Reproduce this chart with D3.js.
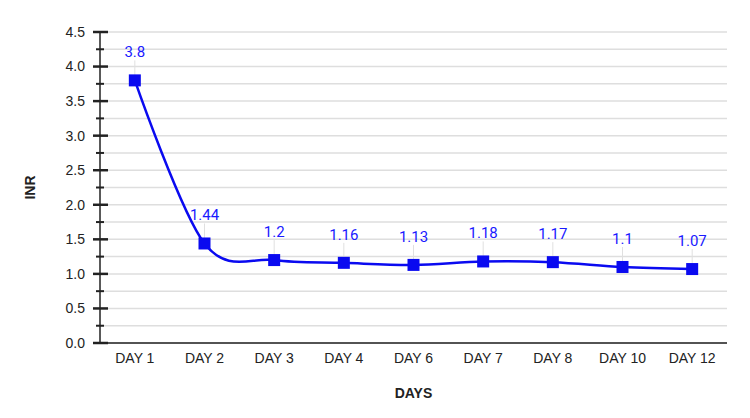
<!DOCTYPE html>
<html>
<head>
<meta charset="utf-8">
<script src="https://cdn.jsdelivr.net/npm/d3@7"></script>
<style>
  body { margin: 0; background: #fff; }
  svg { display: block; }
</style>
</head>
<body>
<div id="chart"></div>
<script>
// data
const days = ["DAY 1", "DAY 2", "DAY 3", "DAY 4", "DAY 6", "DAY 7", "DAY 8", "DAY 10", "DAY 12"];
const inr = [3.8, 1.44, 1.2, 1.16, 1.13, 1.18, 1.17, 1.1, 1.07];
const yTicks = [0, 0.5, 1, 1.5, 2, 2.5, 3, 3.5, 4, 4.5];
const yMinor = [0.25, 0.75, 1.25, 1.75, 2.25, 2.75, 3.25, 3.75, 4.25];

const width = 750, height = 418;
const margin = { top: 32, right: 23, bottom: 75, left: 100 };

const svg = d3.select("#chart")
    .append("svg")
    .attr("width", width)
    .attr("height", height);

const x = d3.scaleBand()
    .domain(days)
    .range([margin.left, width - margin.right]);

const y = d3.scaleLinear()
    .domain([0, 4.5])
    .range([height - margin.bottom, margin.top]);

// grid lines
svg.append("g")
    .selectAll("line")
    .data(yTicks.concat(yMinor))
    .enter()
    .append("line")
    .attr("x1", margin.left)
    .attr("x2", width - margin.right)
    .attr("y1", d => y(d))
    .attr("y2", d => y(d))
    .attr("stroke", "#dedede")
    .attr("stroke-width", 1.5);

// y axis
const yAxis = svg.append("g")
    .attr("transform", `translate(${margin.left},0)`);

yAxis.append("line")
    .attr("x1", 0).attr("x2", 0)
    .attr("y1", y(0)).attr("y2", y(4.5))
    .attr("stroke", "#222").attr("stroke-width", 1.5);

yAxis.selectAll(".major")
    .data(yTicks)
    .enter()
    .append("line")
    .attr("class", "major")
    .attr("x1", -7).attr("x2", 8)
    .attr("y1", d => y(d)).attr("y2", d => y(d))
    .attr("stroke", "#222").attr("stroke-width", 2.5);

yAxis.selectAll(".minor")
    .data(yMinor)
    .enter()
    .append("line")
    .attr("class", "minor")
    .attr("x1", -4).attr("x2", 4)
    .attr("y1", d => y(d)).attr("y2", d => y(d))
    .attr("stroke", "#222").attr("stroke-width", 2);

yAxis.selectAll("text")
    .data(yTicks)
    .enter()
    .append("text")
    .attr("x", -15)
    .attr("y", d => y(d))
    .attr("dy", "0.35em")
    .attr("text-anchor", "end")
    .attr("font-family", "Liberation Sans, Arial, sans-serif")
    .attr("font-size", 14)
    .attr("fill", "#222")
    .text(d => d.toFixed(1));

// x axis
svg.append("line")
    .attr("x1", margin.left - 7)
    .attr("x2", width - margin.right)
    .attr("y1", y(0)).attr("y2", y(0))
    .attr("stroke", "#222").attr("stroke-width", 1.5);

svg.append("g")
    .selectAll("text")
    .data(days)
    .enter()
    .append("text")
    .attr("x", d => x(d) + x.bandwidth() / 2)
    .attr("y", y(0) + 20)
    .attr("text-anchor", "middle")
    .attr("font-family", "Liberation Sans, Arial, sans-serif")
    .attr("font-size", 14)
    .attr("fill", "#222")
    .text(d => d);

// axis titles
svg.append("text")
    .attr("transform", `translate(35, ${(y(0) + y(4.5)) / 2}) rotate(-90)`)
    .attr("text-anchor", "middle")
    .attr("font-family", "Liberation Sans, Arial, sans-serif")
    .attr("font-size", 14)
    .attr("font-weight", "bold")
    .attr("fill", "#222")
    .text("INR");

svg.append("text")
    .attr("x", (margin.left + width - margin.right) / 2)
    .attr("y", 398)
    .attr("text-anchor", "middle")
    .attr("font-family", "Liberation Sans, Arial, sans-serif")
    .attr("font-size", 14)
    .attr("font-weight", "bold")
    .attr("fill", "#222")
    .text("DAYS");

const points = days.map((d, i) => ({ day: d, value: inr[i] }));
const cx = d => x(d.day) + x.bandwidth() / 2;

// leader lines for value labels
svg.append("g")
    .selectAll("line")
    .data(points)
    .enter()
    .append("line")
    .attr("x1", cx).attr("x2", cx)
    .attr("y1", d => y(d.value))
    .attr("y2", d => y(d.value) - 20)
    .attr("stroke", "#e0e0e0")
    .attr("stroke-width", 1);

// line
const line = d3.line()
    .x(cx)
    .y(d => y(d.value))
    .curve(d3.curveCardinal.tension(0));

svg.append("path")
    .datum(points)
    .attr("d", line)
    .attr("fill", "none")
    .attr("stroke", "#0a0af0")
    .attr("stroke-width", 2.5);

// markers
svg.append("g")
    .selectAll("rect")
    .data(points)
    .enter()
    .append("rect")
    .attr("x", d => cx(d) - 6)
    .attr("y", d => y(d.value) - 6)
    .attr("width", 12)
    .attr("height", 12)
    .attr("fill", "#0a0af0");

// value labels
svg.append("g")
    .selectAll("text")
    .data(points)
    .enter()
    .append("text")
    .attr("x", cx)
    .attr("y", d => y(d.value) - 23)
    .attr("text-anchor", "middle")
    .attr("font-family", "Roboto, sans-serif")
    .attr("font-size", 15)
    .attr("fill", "#1a1aff")
    .text(d => d.value);
</script>
</body>
</html>
